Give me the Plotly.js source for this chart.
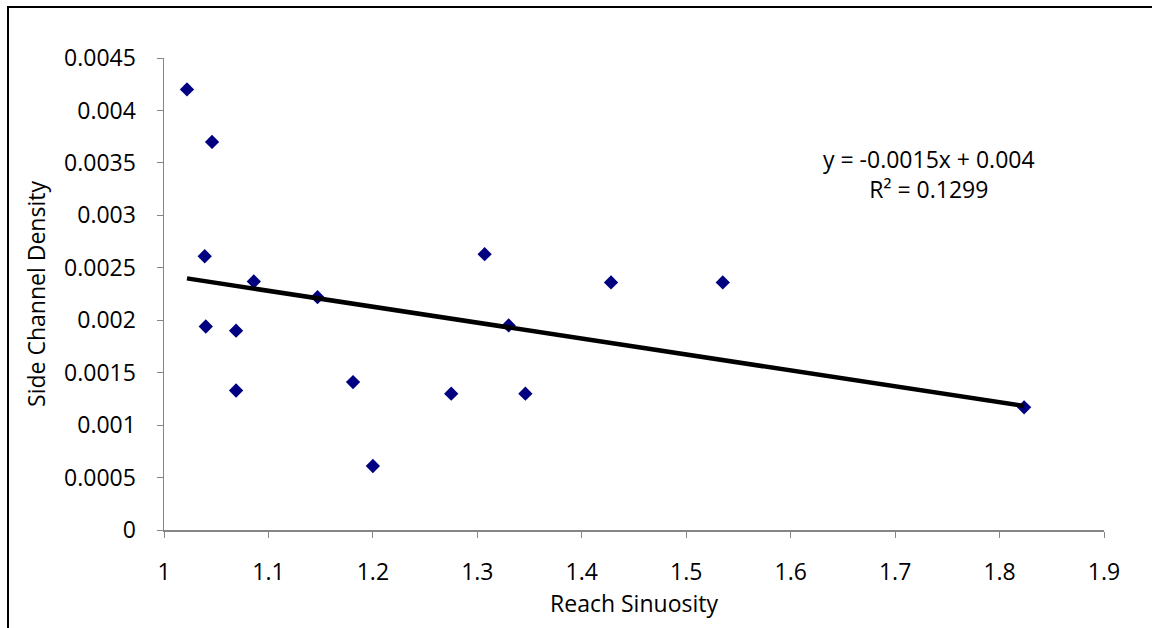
<!DOCTYPE html>
<html>
<head>
<meta charset="utf-8">
<script src="https://cdn.plot.ly/plotly-3.0.1.min.js"></script>
<style>
  html, body { margin: 0; padding: 0; background: #fff; }
  #wrap { position: relative; width: 1152px; height: 628px; overflow: hidden; }
  #chart { width: 1152px; height: 628px; }
  #frame {
    position: absolute; left: 7px; top: 6px; width: 1200px; height: 700px;
    border-top: 2px solid #000; border-left: 2px solid #000; pointer-events: none;
  }
</style>
</head>
<body>
<div id="wrap">
  <div id="chart"></div>
  <div id="frame"></div>
</div>
<script>
// Reach sinuosity vs. side channel density, one point per reach
const sinuosity = [1.022, 1.046, 1.039, 1.086, 1.147, 1.040, 1.069, 1.069, 1.181,
                   1.200, 1.275, 1.307, 1.330, 1.346, 1.428, 1.535, 1.8235];
const sideChannelDensity = [0.00420, 0.00370, 0.00261, 0.00237, 0.00222, 0.00194, 0.00190,
                            0.00133, 0.00141, 0.00061, 0.00130, 0.00263, 0.00195, 0.00130,
                            0.00236, 0.00236, 0.00117];
const xTicks = [1, 1.1, 1.2, 1.3, 1.4, 1.5, 1.6, 1.7, 1.8, 1.9];
const yTicks = [0, 0.0005, 0.001, 0.0015, 0.002, 0.0025, 0.003, 0.0035, 0.004, 0.0045];
const trendLabel = ['y = -0.0015x + 0.004', 'R² = 0.1299'];

// Least-squares linear trend across the observed sinuosity range
function linearFit(xs, ys) {
  const n = xs.length;
  const mx = xs.reduce((a, b) => a + b, 0) / n;
  const my = ys.reduce((a, b) => a + b, 0) / n;
  let sxy = 0, sxx = 0;
  for (let i = 0; i < n; i++) {
    sxy += (xs[i] - mx) * (ys[i] - my);
    sxx += (xs[i] - mx) * (xs[i] - mx);
  }
  const slope = sxy / sxx;
  return { slope: slope, intercept: my - slope * mx };
}
const fit = linearFit(sinuosity, sideChannelDensity);
const xMin = Math.min(...sinuosity), xMax = Math.max(...sinuosity);
const trendX = [xMin, xMax];
const trendY = trendX.map(x => fit.slope * x + fit.intercept);

const font = { family: 'Open Sans, sans-serif', size: 23, color: '#000' };
const axisColor = '#868686';

const traces = [
  {
    x: sinuosity, y: sideChannelDensity, type: 'scatter', mode: 'markers',
    marker: { symbol: 'diamond', size: 11, color: '#000080' },
    hoverinfo: 'x+y'
  },
  {
    x: trendX, y: trendY, type: 'scatter', mode: 'lines',
    line: { color: '#000', width: 4.5 }, hoverinfo: 'skip'
  }
];

const layout = {
  width: 1152, height: 628,
  margin: { l: 164, r: 48, t: 58, b: 98, pad: 0 },
  paper_bgcolor: '#fff', plot_bgcolor: '#fff',
  showlegend: false,
  font: font,
  xaxis: {
    range: [1, 1.9], tickvals: xTicks, ticktext: xTicks.map(String),
    showgrid: false, zeroline: false, showline: true, linecolor: axisColor, linewidth: 1.5,
    ticks: 'outside', ticklen: 6, tickcolor: axisColor, tickwidth: 1,
    tickfont: font, ticklabelstandoff: 15,
    title: { text: 'Reach Sinuosity', font: font, standoff: 8 }
  },
  yaxis: {
    range: [0, 0.0045], tickvals: yTicks, ticktext: yTicks.map(String),
    showgrid: false, zeroline: false, showline: true, linecolor: axisColor, linewidth: 1.5,
    ticks: 'outside', ticklen: 6, tickcolor: axisColor, tickwidth: 1,
    tickfont: font, ticklabelstandoff: 16,
    title: { text: 'Side Channel Density', font: font, standoff: 12 }
  },
  annotations: [
    {
      xref: 'x', yref: 'y', x: 1.7324, y: 0.00339, showarrow: false,
      text: trendLabel.join('<br>'), align: 'center', font: font
    }
  ]
};

Plotly.newPlot('chart', traces, layout, { staticPlot: true, displayModeBar: false });
</script>
</body>
</html>
